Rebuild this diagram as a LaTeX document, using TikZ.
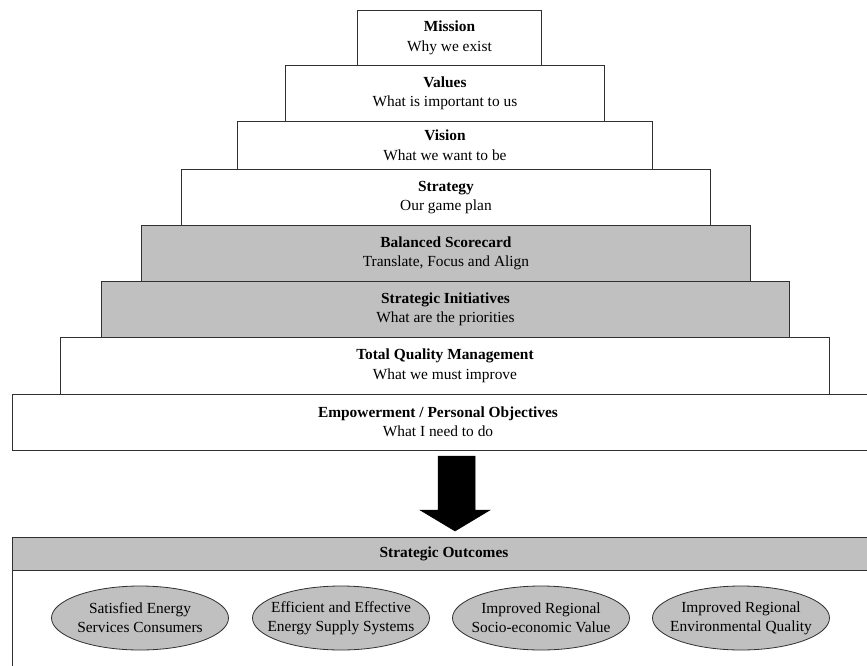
\documentclass[tikz,border=0pt]{standalone}
\usepackage{fontspec}
\setmainfont{Liberation Serif}
\usetikzlibrary{shapes.geometric}
\definecolor{boxgray}{HTML}{C0C0C0}
\definecolor{edge}{HTML}{303030}
\begin{document}
\begin{tikzpicture}[x=1pt,y=-1pt,
  lvl/.style={draw=edge, line width=0.9pt, fill=white, rectangle, inner sep=0pt,
    align=center, font=\fontsize{15.4}{19.5}\selectfont},
  lvlgray/.style={lvl, fill=boxgray},
  txt/.style={align=center, inner sep=0pt, font=\fontsize{15.4}{19.5}\selectfont},
  outcome/.style={draw=edge, line width=0.8pt, fill=boxgray, ellipse, inner sep=0pt,
    minimum width=177pt, minimum height=64pt},
  outtext/.style={align=center, inner sep=0pt, font=\fontsize{15.4}{19}\selectfont},
  bigarrow/.style={fill=black, draw=black, line width=0.5pt}
]
\useasboundingbox (0,0) rectangle (867,666);
\clip (0,0) rectangle (867,666);
\fill[white] (0,0) rectangle (867,666);

% pyramid levels (from bottom so upper boxes' bottom edges overlap cleanly)
\node[lvl, minimum width=870pt, minimum height=56pt, anchor=north west] (emp) at (12,394) {};
\node[txt] (emptext) at (438,422) {\textbf{Empowerment / Personal Objectives}\\What I need to do};
\node[lvl, minimum width=769pt, minimum height=57pt, anchor=north west] (tqm) at (60,337)
  {\textbf{Total Quality Management}\\What we must improve};
\node[lvlgray, minimum width=688pt, minimum height=56pt, anchor=north west] (si) at (101,281)
  {\textbf{Strategic Initiatives}\\What are the priorities};
\node[lvlgray, minimum width=609pt, minimum height=56pt, anchor=north west] (bsc) at (141,225)
  {\textbf{Balanced Scorecard}\\Translate, Focus and Align};
\node[lvl, minimum width=529pt, minimum height=56pt, anchor=north west] (strat) at (181,169)
  {\textbf{Strategy}\\Our game plan};
\node[lvl, minimum width=415pt, minimum height=48pt, anchor=north west] (vision) at (237,121)
  {\textbf{Vision}\\What we want to be};
\node[lvl, minimum width=319pt, minimum height=56pt, anchor=north west] (values) at (285,65)
  {\textbf{Values}\\What is important to us};
\node[lvl, minimum width=184pt, minimum height=55pt, anchor=north west] (mission) at (357,10)
  {\textbf{Mission}\\Why we exist};

% outcomes panel
\node[draw=edge, line width=0.9pt, fill=white, rectangle, inner sep=0pt,
  minimum width=870pt, minimum height=140pt, anchor=north west] (panel) at (12,570) {};
\node[lvlgray, minimum width=870pt, minimum height=33pt, anchor=north west] (outhead) at (12,537) {};
\node[txt, font=\fontsize{15.4}{19}\selectfont\bfseries] (outtitle) at (444,553.5) {Strategic Outcomes};

% block arrow between the pyramid and the outcomes
\coordinate (atip) at (455,531);
\path[bigarrow] (438,456) -- (475,456) -- (475,510) -- (490,510) -- (atip)
  -- (420,510) -- (438,510) -- cycle;

% outcome ellipses
\node[outcome] (o1) at (140,618) {};
\node[outcome] (o2) at (341,618) {};
\node[outcome] (o3) at (541,618) {};
\node[outcome] (o4) at (741,618) {};
\node[outtext] (o1t) at (o1.center) {Satisfied Energy\\Services Consumers};
\node[outtext] (o2t) at (o2.center) {Efficient and Effective\\Energy Supply Systems};
\node[outtext] (o3t) at (o3.center) {Improved Regional\\Socio-economic Value};
\node[outtext] (o4t) at (o4.center) {Improved Regional\\Environmental Quality};
\end{tikzpicture}
\end{document}
